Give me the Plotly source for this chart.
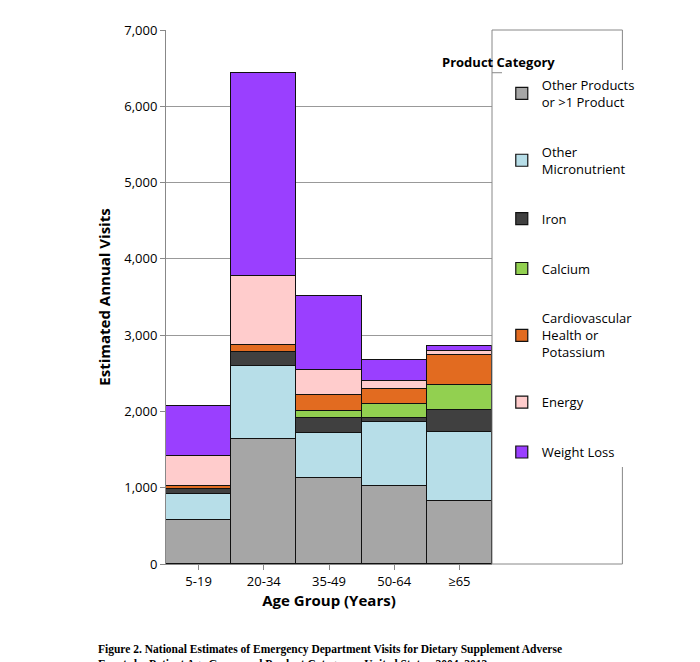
import plotly.graph_objects as go

groups = ["5-19", "20-34", "35-49", "50-64", "≥65"]
other_products = [580, 1636, 1127, 1022, 825]
other_micro = [332, 965, 584, 833, 899]
iron = [66, 175, 197, 62, 298]
calcium = [5, 5, 96, 175, 329]
cardio = [39, 96, 215, 197, 390]
energy = [395, 900, 325, 115, 57]
weight_loss = [658, 2655, 965, 276, 62]

series = [
    ("Other Products<br>or >1 Product", other_products, "#a6a6a6"),
    ("Other<br>Micronutrient", other_micro, "#b7dee8"),
    ("Iron", iron, "#404040"),
    ("Calcium", calcium, "#92d050"),
    ("Cardiovascular<br>Health or<br>Potassium", cardio, "#e26b20"),
    ("Energy", energy, "#ffcccc"),
    ("Weight Loss", weight_loss, "#9a3fff"),
]

fig = go.Figure()
for i, (name, vals, col) in enumerate(series):
    fig.add_bar(x=groups, y=vals, name=name, marker_color=col,
                marker_line=dict(color="#111", width=1.2), legendgroup=str(i))

fig.update_layout(
    barmode="stack", bargap=0, width=700, height=662,
    paper_bgcolor="white", plot_bgcolor="white",
    margin=dict(l=158, r=216, t=22, b=106, autoexpand=False),
    font=dict(family="Open Sans, Liberation Sans", size=13, color="black"),
    xaxis=dict(title=dict(text="<b>Age Group (Years)</b>", font=dict(size=15), standoff=6),
               automargin=False,
               showline=True, linecolor="#888", ticks="outside", ticklen=5, tickcolor="#888"),
    yaxis=dict(title=dict(text="<b>Estimated Annual Visits</b>", font=dict(size=15), standoff=10),
               automargin=False,
               range=[0, 7000], dtick=1000, tickformat=",", gridcolor="#999",
               showline=True, linecolor="#888", ticks="outside", ticklen=5, tickcolor="#888"),
    legend=dict(x=1.03, xanchor="left", y=0.925, yanchor="top", traceorder="reversed+grouped",
                tracegroupgap=30, font=dict(size=13), itemwidth=30),
    shapes=[
        dict(type="rect", xref="paper", yref="paper", x0=1.0, x1=1.4, y0=0, y1=1,
             line=dict(color="#888", width=1)),
        dict(type="line", xref="paper", yref="paper", x0=1.0, x1=1.4, y0=0.92, y1=0.92,
             line=dict(color="#888", width=1)),
    ],
    annotations=[
        dict(text="<b>Product Category</b>", xref="paper", yref="paper", x=1.2, y=0.96,
             showarrow=False, font=dict(size=13)),
        dict(text="<b>Figure 2. National Estimates of Emergency Department Visits for Dietary Supplement Adverse<br>Events by Patient Age Group and Product Category—United States, 2004–2013:</b>",
             xref="paper", yref="paper", x=-0.215, y=-0.145, xanchor="left", yanchor="top",
             align="left", showarrow=False, font=dict(family="Liberation Serif", size=11.5)),
    ],
)
fig.write_html("out.html")
